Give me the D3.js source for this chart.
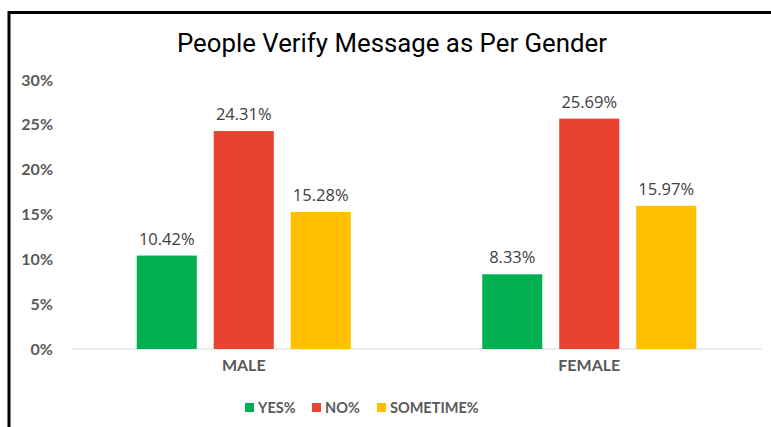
<!DOCTYPE html>
<html>
<head>
<meta charset="utf-8">
<script src="https://cdn.jsdelivr.net/npm/d3@7"></script>
<style>
  body { margin: 0; background: #fff; }
  svg { display: block; }
</style>
</head>
<body>
<script>
// data
const categories = ['MALE', 'FEMALE'];
const seriesNames = ['YES%', 'NO%', 'SOMETIME%'];
const seriesColors = ['#00b050', '#ea4230', '#ffc000'];
const yesValues = [10.42, 8.33];
const noValues = [24.31, 25.69];
const sometimeValues = [15.28, 15.97];
const yTicks = [0, 5, 10, 15, 20, 25, 30];

const W = 771, H = 427;
const svg = d3.select('body').append('svg')
    .attr('width', W)
    .attr('height', H);

// chart frame (left + top border)
svg.append('path')
    .attr('d', 'M9,427 V12.5 H771')
    .attr('fill', 'none')
    .attr('stroke', '#000')
    .attr('stroke-width', 3);

svg.append('text')
    .attr('x', 392)
    .attr('y', 52)
    .attr('text-anchor', 'middle')
    .attr('font-family', 'Roboto, sans-serif')
    .attr('font-size', 25.8)
    .attr('fill', '#000')
    .text('People Verify Message as Per Gender');

const x0 = d3.scaleBand().domain(categories).range([71, 762]);
const x1 = d3.scaleBand().domain(seriesNames)
    .range([0, 214]).paddingInner(0.22);
const y = d3.scaleLinear().domain([0, 30]).range([349, 80]);

// y axis labels
svg.append('g')
    .attr('transform', 'translate(56,0)')
    .call(d3.axisLeft(y).tickValues(yTicks).tickSize(0).tickFormat(d => d + '%'))
    .call(g => g.select('.domain').remove())
    .call(g => g.selectAll('text')
        .attr('font-family', 'Lato, sans-serif')
        .attr('font-weight', 'bold')
        .attr('font-size', 16)
        .attr('fill', '#595959'));

// baseline
svg.append('line')
    .attr('x1', 71).attr('x2', 762)
    .attr('y1', y(0)).attr('y2', y(0))
    .attr('stroke', '#d9d9d9')
    .attr('stroke-width', 1);

const rows = categories.map((c, i) => ({
    cat: c,
    vals: [yesValues[i], noValues[i], sometimeValues[i]]
}));

const groups = svg.selectAll('.grp').data(rows).join('g')
    .attr('class', 'grp')
    .attr('transform', d => `translate(${x0(d.cat) + (x0.bandwidth() - 214) / 2},0)`);

groups.selectAll('rect')
    .data(d => d.vals.map((v, j) => ({ name: seriesNames[j], v, j })))
    .join('rect')
    .attr('x', d => x1(d.name))
    .attr('y', d => y(d.v))
    .attr('width', x1.bandwidth())
    .attr('height', d => y(0) - y(d.v))
    .attr('fill', d => seriesColors[d.j]);

groups.selectAll('.lbl')
    .data(d => d.vals.map((v, j) => ({ name: seriesNames[j], v })))
    .join('text')
    .attr('class', 'lbl')
    .attr('x', d => x1(d.name) + x1.bandwidth() / 2)
    .attr('y', d => y(d.v) - 11)
    .attr('text-anchor', 'middle')
    .attr('font-family', 'Open Sans, sans-serif')
    .attr('font-size', 16.5)
    .attr('fill', '#404040')
    .text(d => d.v.toFixed(2) + '%');

// x axis labels
svg.append('g')
    .attr('transform', `translate(0,${y(0)})`)
    .call(d3.axisBottom(x0).tickSize(0).tickPadding(11))
    .call(g => g.select('.domain').remove())
    .call(g => g.selectAll('text')
        .attr('font-family', 'Lato, sans-serif')
        .attr('font-weight', 'bold')
        .attr('font-size', 16)
        .attr('fill', '#595959'));

// legend
const legendX = [245, 312, 377];
const legend = svg.append('g').selectAll('g').data(seriesNames).join('g')
    .attr('transform', (d, i) => `translate(${legendX[i]},403)`);
legend.append('rect')
    .attr('width', 9).attr('height', 9)
    .attr('fill', (d, i) => seriesColors[i]);
legend.append('text')
    .attr('x', 13).attr('y', 10)
    .attr('font-family', 'Lato, sans-serif')
    .attr('font-weight', 'bold')
    .attr('font-size', 14.5)
    .attr('fill', '#595959')
    .text(d => d);
</script>
</body>
</html>
